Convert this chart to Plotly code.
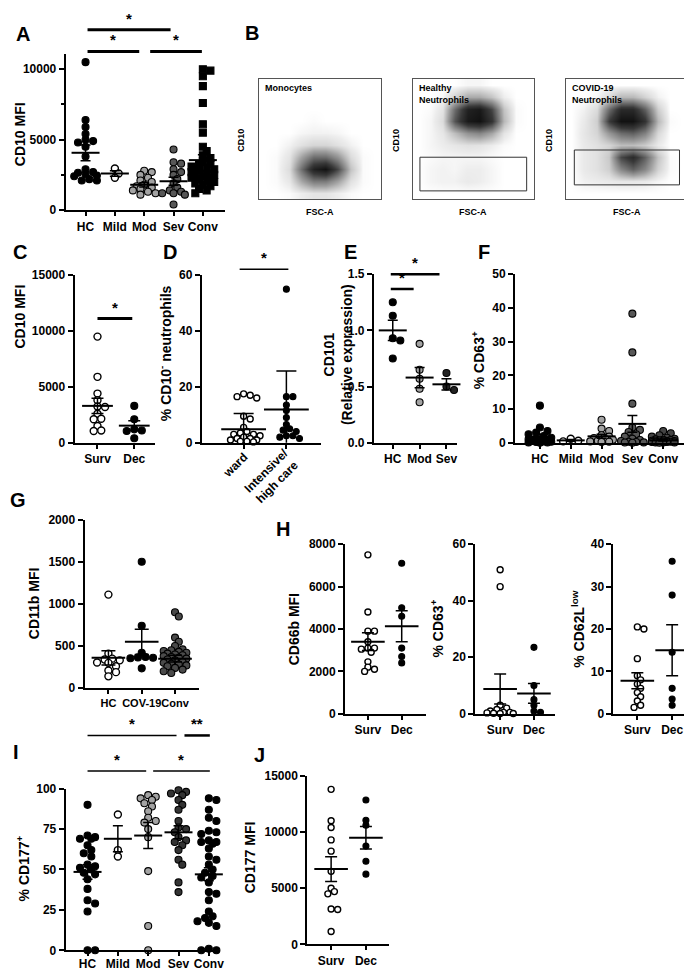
import plotly.graph_objects as go

W, H = 692, 970
FONT = "Liberation Sans, Arial, sans-serif"

# ---------------- DATA ----------------
A_labels = ["HC", "Mild", "Mod", "Sev", "Conv"]
A_HC = [10500, 6400, 5900, 5400, 5000, 4900, 4800, 4500, 3800, 2900, 2700, 2650, 2550, 2450, 2400, 2200, 2100, 2100]
A_Mild = [2950, 2600, 2300]
A_Mod = [2800, 2700, 2500, 2300, 2100, 2000, 1800, 1700, 1600, 1500, 1400, 1300, 1200, 1100]
A_Sev = [4300, 3400, 3300, 2900, 2700, 2500, 2200, 1900, 1600, 1400, 1300, 1200, 1200, 1100, 400]
A_Conv = [10000, 9900, 9500, 8800, 7600, 6100, 5500, 4500, 4200, 3900, 3700, 3500, 3300, 3200, 3100, 3000, 2900,
          2800, 2700, 2600, 2500, 2500, 2400, 2300, 2300, 2200, 2100, 2000, 1900, 1800, 1700, 1500, 1400, 1200]
A_mean = [4070, 2600, 1800, 2050, 3550]
A_sem = [560, 190, 150, 280, 380]
A_yticks = [0, 5000, 10000]

C_labels = ["Surv", "Dec"]
C_Surv = [9500, 5900, 4400, 3800, 3250, 3200, 2600, 2150, 2100, 1500, 1100, 1050]
C_Dec = [3300, 2100, 1200, 1100, 1050, 400]
C_mean = [3300, 1530]
C_sem = [680, 440]
C_yticks = [0, 5000, 10000, 15000]

D_labels = ["ward", "Intensive/<br>high care"]
D_ward = [17.5, 17, 16.5, 16, 9.5, 8.5, 5.5, 4, 3.5, 3, 3, 2.5, 2, 1.5, 1.5, 1, 1, 0.5, 0.5, 0.3]
D_icu = [55, 16.5, 16.5, 13.5, 11.5, 9, 6.5, 5, 4.5, 4, 2.5, 2.5, 2, 1.5]
D_mean = [4.8, 11.9]
D_sd = [5.7, 13.8]
D_yticks = [0, 20, 40, 60]

E_labels = ["HC", "Mod", "Sev"]
E_HC = [1.25, 1.13, 0.93, 0.91, 0.75]
E_Mod = [0.88, 0.65, 0.57, 0.48, 0.36]
E_Sev = [0.62, 0.50, 0.47]
E_mean = [1.0, 0.58, 0.52]
E_sem = [0.09, 0.09, 0.05]
E_yticks = [0, 0.5, 1.0, 1.5]
E_yticktext = ["0.0", "0.5", "1.0", "1.5"]

F_labels = ["HC", "Mild", "Mod", "Sev", "Conv"]
F_HC = [11, 4.5, 3.5, 3, 2.5, 2, 1.5, 1.2, 1, 0.8, 0.6, 0.5, 0.4, 0.3, 0.2, 0.1, 0.1, 0]
F_Mild = [1.2, 0.6, 0.4]
F_Mod = [6.8, 4.2, 3.5, 2.2, 1.8, 1.4, 1.1, 0.9, 0.6, 0.4, 0.3, 0.2]
F_Sev = [38.3, 26.8, 11.6, 4.5, 3.8, 3.2, 2.5, 1.8, 1.2, 0.8, 0.5, 0.3, 0.2, 0.1, 0.05, 0]
F_Conv = [3.5, 2.8, 2.2, 1.8, 1.5, 1.2, 1.0, 0.9, 0.8, 0.7, 0.6, 0.5, 0.5, 0.4, 0.4, 0.3, 0.3, 0.2, 0.2,
          0.1, 0.1, 0.1, 0]
F_mean = [1.8, 0.7, 1.9, 5.6, 0.7]
F_sem = [0.7, 0.25, 0.6, 2.5, 0.2]
F_yticks = [0, 10, 20, 30, 40, 50]

G_labels = ["HC", "COV-19", "Conv"]
G_HC = [1110, 410, 350, 340, 330, 305, 300, 260, 210, 190, 140]
G_COV = [1500, 740, 420, 370, 365, 360, 355, 235]
G_Conv = [900, 850, 600, 550, 500, 460, 450, 440, 430, 420, 410, 400, 390, 380, 370, 360, 350, 340, 330, 310,
          300, 290, 280, 270, 260, 240, 220, 200, 180]
G_mean = [360, 550, 350]
G_sem = [85, 150, 40]
G_yticks = [0, 500, 1000, 1500, 2000]

H_labels = ["Surv", "Dec"]
H1_Surv = [7500, 4800, 3900, 3900, 3400, 3100, 3100, 3050, 2900, 2450, 2200, 2100, 2000]
H1_Dec = [7100, 5000, 4600, 3100, 2700, 2400]
H1_mean = [3400, 4130]
H1_sem = [420, 730]
H1_yticks = [0, 2000, 4000, 6000, 8000]
H2_Surv = [51, 45, 3, 2, 1.5, 1, 0.5, 0.5, 0.3, 0.2, 0.1, 0.1]
H2_Dec = [23.5, 10, 5, 3, 1, 0.5]
H2_mean = [8.8, 7.2]
H2_sem = [5.3, 3.5]
H2_yticks = [0, 20, 40, 60]
H3_Surv = [20.5, 20, 13, 9, 8, 7, 6, 5, 4, 3, 2, 1.5]
H3_Dec = [36, 28, 14.5, 6, 3.5, 2]
H3_mean = [7.8, 15]
H3_sem = [1.9, 6]
H3_yticks = [0, 10, 20, 30, 40]

I_labels = ["HC", "Mild", "Mod", "Sev", "Conv"]
I_HC = [90, 71, 70, 69, 69, 65, 62, 60, 58, 53, 52, 51, 50, 48, 47, 44, 38, 31, 29, 24, 0, 0]
I_Mild = [84, 62, 58]
I_Mod = [96, 95, 94, 93, 91, 89, 86, 82, 80, 79, 75, 70, 49, 15, 0]
I_Sev = [99, 98, 97, 96, 93, 90, 87, 80, 76, 75, 73, 70, 68, 67, 65, 62, 56, 53, 42, 36]
I_Conv = [94, 93, 87, 82, 80, 74, 73, 72, 68, 67, 67, 66, 63, 58, 56, 53, 50, 48, 46, 45, 42, 36, 35, 31,
          24, 21, 20, 19, 18, 17, 15, 1, 0, 0]
I_mean = [48.5, 69, 71, 73, 47]
I_sem = [4.5, 8, 8, 4, 4]
I_yticks = [0, 25, 50, 75, 100]

J_labels = ["Surv", "Dec"]
J_Surv = [13800, 11000, 10400, 9300, 8300, 6500, 5000, 4700, 4500, 3150, 3100, 1150]
J_Dec = [12850, 11050, 10600, 8750, 7400, 6250]
J_mean = [6700, 9500]
J_sem = [1100, 1000]
J_yticks = [0, 5000, 10000, 15000]

# flow cytometry event density (rows bottom -> top, 10 x 10 grid over each plot)
B_titles = ["Monocytes", "Healthy<br>Neutrophils", "COVID-19<br>Neutrophils"]
B_mono = [
    [0, 0, 0.01, 0.04, 0.07, 0.07, 0.04, 0.01, 0, 0],
    [0, 0.01, 0.06, 0.28, 0.45, 0.45, 0.3, 0.08, 0.01, 0],
    [0, 0.01, 0.1, 0.5, 0.85, 0.95, 0.65, 0.18, 0.01, 0],
    [0, 0.01, 0.07, 0.3, 0.5, 0.5, 0.35, 0.1, 0.01, 0],
    [0, 0, 0.03, 0.08, 0.12, 0.12, 0.08, 0.03, 0, 0],
    [0, 0, 0, 0.02, 0.03, 0.03, 0.02, 0, 0, 0],
    [0, 0, 0, 0, 0.01, 0, 0, 0, 0, 0],
    [0] * 10, [0] * 10, [0] * 10]
B_healthy = [
    [0] * 10,
    [0, 0.02, 0.03, 0.03, 0.05, 0.04, 0.02, 0, 0, 0],
    [0, 0.02, 0.03, 0.02, 0.04, 0.04, 0.02, 0, 0, 0],
    [0, 0.01, 0.02, 0.02, 0.02, 0.02, 0.01, 0, 0, 0],
    [0, 0.02, 0.04, 0.06, 0.08, 0.07, 0.04, 0.01, 0, 0],
    [0, 0.02, 0.06, 0.2, 0.35, 0.4, 0.28, 0.07, 0, 0],
    [0, 0.02, 0.1, 0.6, 0.9, 0.95, 0.75, 0.22, 0.01, 0],
    [0, 0.01, 0.07, 0.5, 0.85, 0.9, 0.65, 0.18, 0.01, 0],
    [0, 0, 0.02, 0.13, 0.27, 0.27, 0.18, 0.04, 0, 0],
    [0, 0, 0, 0, 0.02, 0.02, 0, 0, 0, 0]]
B_covid = [
    [0] * 10,
    [0, 0.03, 0.04, 0.05, 0.06, 0.06, 0.05, 0.02, 0, 0],
    [0, 0.05, 0.08, 0.14, 0.4, 0.55, 0.4, 0.13, 0.01, 0],
    [0, 0.05, 0.08, 0.16, 0.65, 0.8, 0.55, 0.18, 0.01, 0],
    [0, 0.05, 0.08, 0.12, 0.2, 0.2, 0.15, 0.05, 0, 0],
    [0, 0.06, 0.12, 0.33, 0.5, 0.55, 0.42, 0.11, 0, 0],
    [0, 0.05, 0.14, 0.7, 0.95, 0.95, 0.75, 0.22, 0.01, 0],
    [0, 0.03, 0.1, 0.5, 0.8, 0.8, 0.55, 0.14, 0, 0],
    [0, 0, 0.02, 0.1, 0.22, 0.22, 0.13, 0.03, 0, 0],
    [0] * 10]
B_gates = [None, [0.06, 0.94, 0.07, 0.35], [0.07, 0.93, 0.12, 0.41]]

# ---------------- HELPERS ----------------
def X(px):
    return px / W


def Y(py):
    return 1 - py / H


def names(n):
    return ('x' if n == 1 else f'x{n}', 'y' if n == 1 else f'y{n}',
            'xaxis' if n == 1 else f'xaxis{n}', 'yaxis' if n == 1 else f'yaxis{n}')


def swarm(vals, ky, kx, d, maxw):
    """Greedy beeswarm in pixel space; returns x offsets in category units."""
    order = sorted(range(len(vals)), key=lambda i: -vals[i])
    placed = []
    off = [0.0] * len(vals)
    step = d * 0.5
    cands = [0.0]
    m = 1
    while m * step <= maxw + 1e-9:
        cands += [m * step, -m * step]
        m += 1
    mind = d * 0.72
    for i in order:
        y = vals[i] * ky
        best, bestd = None, -1
        for cx in cands:
            dm = min([((cx - a) ** 2 + (y - b) ** 2) ** 0.5 for a, b in placed] or [1e9])
            if dm >= mind:
                best = cx
                break
            if dm > bestd:
                best, bestd = cx, dm
        placed.append((best, y))
        off[i] = best / kx
    return off


fig = go.Figure()
axes = {}
annotations = []
shapes = []
geo = {}

BLACK = 'black'
TITLE_SIZE = 14
LETTER_SIZE = 20


def tfont(size=12):
    return dict(family=FONT, size=size, color=BLACK, weight='bold')


def text(px, py, s, size=12, angle=0, xanchor='center', yanchor='middle'):
    annotations.append(dict(x=X(px), y=Y(py), xref='paper', yref='paper', text=s, showarrow=False,
                            textangle=angle, xanchor=xanchor, yanchor=yanchor, font=tfont(size)))


def dot_panel(n, L, R, T, B, cats_px, ytop, yticks, labels, groups, styles, mean, err,
              msize=7, mhalf=10, chalf=5, yticktext=None, minor=None, showxlabels=True, spread=0.45,
              standoff=0, xfont=12):
    s = (cats_px[-1] - cats_px[0]) / (len(cats_px) - 1)
    c0 = cats_px[0]
    xr = [(L - c0) / s, (R - c0) / s]
    ky = (B - T) / ytop
    xa, ya, xk, yk = names(n)
    geo[n] = (c0, s)
    for gi, (vals, st) in enumerate(zip(groups, styles)):
        off = swarm(vals, ky, s, msize + 0.6, spread * s)
        fig.add_trace(go.Scatter(
            x=[gi + o for o in off], y=vals, mode='markers', xaxis=xa, yaxis=ya,
            cliponaxis=False, showlegend=False, hoverinfo='skip',
            marker=dict(symbol=st[0], size=msize, color=st[1],
                        line=dict(color=BLACK, width=1.4 if st[1] == 'white' else 1.1))))
    fig.add_trace(go.Scatter(
        x=list(range(len(mean))), y=mean, mode='markers', xaxis=xa, yaxis=ya, cliponaxis=False,
        showlegend=False, hoverinfo='skip',
        marker=dict(symbol='line-ew', size=2 * mhalf, color=BLACK, line=dict(color=BLACK, width=2)),
        error_y=dict(type='data', array=err, width=chalf, thickness=1.5, color=BLACK)))
    xd = dict(domain=[X(L), X(R)], range=xr, anchor=ya, showline=True, linecolor=BLACK, linewidth=2,
              ticks='outside', ticklen=4, tickwidth=2, tickcolor=BLACK, tickangle=0,
              tickvals=list(range(len(labels))), ticktext=labels, showticklabels=showxlabels,
              tickfont=tfont(xfont), showgrid=False, zeroline=False, fixedrange=True)
    if standoff:
        xd['ticklabelstandoff'] = standoff
    axes[xk] = xd
    ya_d = dict(domain=[Y(B), Y(T)], range=[0, ytop], anchor=xa, showline=True, linecolor=BLACK, linewidth=2,
                ticks='outside', ticklen=5, tickwidth=2, tickcolor=BLACK, tickvals=yticks,
                ticktext=yticktext if yticktext else [str(v) for v in yticks],
                tickfont=tfont(12), showgrid=False, zeroline=False, fixedrange=True)
    if minor:
        ya_d['minor'] = dict(tickvals=minor, ticks='outside', ticklen=3, tickwidth=2, tickcolor=BLACK)
    axes[yk] = ya_d


def sig(n, i, j, label, py, lw=2.5, dl=2, dr=3, star_size=15):
    c0, s = geo[n]
    x0 = c0 + i * s + dl
    x1 = c0 + j * s - dr
    shapes.append(dict(type='line', xref='paper', yref='paper', x0=X(x0), x1=X(x1), y0=Y(py), y1=Y(py),
                       line=dict(color=BLACK, width=lw)))
    annotations.append(dict(x=X((x0 + x1) / 2), y=Y(py - 1), xref='paper', yref='paper', text=label,
                            showarrow=False, xanchor='center', yanchor='bottom', font=tfont(star_size)))


OPEN = ('circle', 'white')
BLK = ('circle', 'black')
LG = ('circle', '#a3a3a3')
DG = ('circle', '#575757')
SQ = ('square', 'black')

# ---------------- PANEL A ----------------
dot_panel(1, 58, 218, 40, 198, [78, 108, 137, 167, 196], 11050, A_yticks, A_labels,
          [A_HC, A_Mild, A_Mod, A_Sev, A_Conv], [BLK, OPEN, LG, DG, SQ], A_mean, A_sem,
          msize=7, mhalf=10, chalf=5, minor=[2500, 7500])
sig(1, 0, 3, '*', 15, lw=3)
sig(1, 0, 2, '*', 37, lw=3, dr=5)
sig(1, 2, 4, '*', 37, lw=3, dl=6, dr=1)
text(15, 19, 'A', LETTER_SIZE)
text(12, 121, 'CD10 MFI', TITLE_SIZE, -90)

# ---------------- PANEL C ----------------
dot_panel(2, 67, 148, 264, 434, [90, 127], 15000, C_yticks, C_labels, [C_Surv, C_Dec], [OPEN, BLK],
          C_mean, C_sem, msize=7, mhalf=11, chalf=6, spread=0.4)
sig(2, 0, 1, '*', 308, lw=3, dl=0, dr=2)
text(12, 240, 'C', LETTER_SIZE)
text(12, 306, 'CD10 MFI', TITLE_SIZE, -90)

# ---------------- PANEL D ----------------
dot_panel(3, 195, 315, 264, 434, [237, 280], 60, D_yticks, D_labels, [D_ward, D_icu], [OPEN, BLK],
          D_mean, D_sd, msize=6, mhalf=16, chalf=10, showxlabels=False, spread=0.42)
sig(3, 0, 1, '*', 258, lw=1.5, dl=-4, dr=-2)
text(163, 240, 'D', LETTER_SIZE)
text(158, 343, '% CD10<sup>-</sup> neutrophils', TITLE_SIZE, -90)
text(229, 457, D_labels[0], 12, -45)
text(266, 468, D_labels[1], 12, -45)

# ---------------- PANEL E ----------------
dot_panel(4, 368, 452, 263, 434, [387, 414, 441], 1.5, E_yticks, E_labels, [E_HC, E_Mod, E_Sev],
          [BLK, LG, ('circle', '#222222')], E_mean, E_sem, msize=7, mhalf=10, chalf=5, yticktext=E_yticktext)
sig(4, 0, 2, '*', 263, lw=2.5, dl=-2, dr=7)
sig(4, 0, 1, '*', 278, lw=2.5, dl=-2, dr=6)
text(344, 240, 'E', LETTER_SIZE)
text(332, 345, 'CD101<br>(Relative expression)', TITLE_SIZE, -90)

# ---------------- PANEL F ----------------
dot_panel(5, 510, 683, 263, 434, [535, 566, 597, 628, 659], 50, F_yticks, F_labels,
          [F_HC, F_Mild, F_Mod, F_Sev, F_Conv], [BLK, OPEN, LG, DG, ('circle', '#444444')], F_mean, F_sem,
          msize=7, mhalf=10, chalf=5)
text(479, 240, 'F', LETTER_SIZE)
text(473, 350, '% CD63<sup>+</sup>', TITLE_SIZE, -90)

# ---------------- PANEL G ----------------
dot_panel(6, 77, 192, 512, 683, [101, 135, 168], 2000, G_yticks, G_labels, [G_HC, G_COV, G_Conv],
          [OPEN, BLK, ('circle', '#4a4a4a')], G_mean, G_sem, msize=7, mhalf=12, chalf=7, xfont=11)
text(10, 492, 'G', LETTER_SIZE)
text(27, 597, 'CD11b MFI', TITLE_SIZE, -90)

# ---------------- PANEL H ----------------
dot_panel(7, 339, 420, 537, 709, [362, 396], 8000, H1_yticks, H_labels, [H1_Surv, H1_Dec], [OPEN, BLK],
          H1_mean, H1_sem, msize=6, mhalf=12, chalf=6, spread=0.4)
dot_panel(8, 470, 550, 537, 709, [495, 529], 60, H2_yticks, H_labels, [H2_Surv, H2_Dec], [OPEN, BLK],
          H2_mean, H2_sem, msize=6, mhalf=12, chalf=6, spread=0.4)
dot_panel(9, 609, 688, 537, 709, [633, 668], 40, H3_yticks, H_labels, [H3_Surv, H3_Dec], [OPEN, BLK],
          H3_mean, H3_sem, msize=6, mhalf=12, chalf=6, spread=0.4)
text(277, 522, 'H', LETTER_SIZE)
text(288, 623, 'CD66b MFI', TITLE_SIZE, -90)
text(432, 623, '% CD63<sup>+</sup>', TITLE_SIZE, -90)
text(573, 623, '% CD62L<sup>low</sup>', TITLE_SIZE, -90)

# ---------------- PANEL I ----------------
dot_panel(10, 58, 213, 785, 949, [80, 110, 140, 171, 202], 100, I_yticks, I_labels,
          [I_HC, I_Mild, I_Mod, I_Sev, I_Conv], [BLK, OPEN, LG, ('circle', '#333333'), BLK], I_mean, I_sem,
          msize=7, mhalf=10, chalf=5, standoff=-3)
sig(10, 0, 3, '*', 731, lw=1.5, dl=0, dr=2)
sig(10, 3, 4, '**', 731, lw=2.5, dl=6, dr=-1)
sig(10, 0, 2, '*', 767, lw=1.5, dl=0, dr=2)
sig(10, 2, 4, '*', 767, lw=1.5, dl=5, dr=-1)
text(8, 748, 'I', LETTER_SIZE)
text(15, 866, '% CD177<sup>+</sup>', TITLE_SIZE, -90)

# ---------------- PANEL J ----------------
dot_panel(11, 301, 383, 772, 943, [325, 360], 15000, J_yticks, J_labels, [J_Surv, J_Dec], [OPEN, BLK],
          J_mean, J_sem, msize=6, mhalf=12, chalf=6, spread=0.4)
text(253, 751, 'J', LETTER_SIZE)
text(243, 855, 'CD177 MFI', TITLE_SIZE, -90)

# ---------------- PANEL B (flow plots) ----------------
grid_pos = [(i + 0.5) / 10 for i in range(10)]
B_boxes = [(252, 375), (407, 529), (561, 684)]
B_grids = [B_mono, B_healthy, B_covid]
cscale = [[0, '#ffffff'], [0.04, '#ededed'], [0.3, '#a0a0a0'], [0.7, '#3a3a3a'], [1, '#0a0a0a']]
for k, ((bl, br), z, title, gate) in enumerate(zip(B_boxes, B_grids, B_titles, B_gates)):
    n = 12 + k
    xa, ya, xk, yk = names(n)
    fig.add_trace(go.Heatmap(z=z, x=grid_pos, y=grid_pos, xaxis=xa, yaxis=ya, zsmooth='best',
                             colorscale=cscale, zmin=0, zmax=1, showscale=False, hoverinfo='skip'))
    if gate:
        gx = [gate[0], gate[1], gate[1], gate[0], gate[0]]
        gy = [gate[2], gate[2], gate[3], gate[3], gate[2]]
        fig.add_trace(go.Scatter(x=gx, y=gy, mode='lines', xaxis=xa, yaxis=ya, showlegend=False,
                                 hoverinfo='skip', line=dict(color='#333333', width=1)))
    common = dict(range=[0, 1], showline=True, mirror=True, linecolor='#555555', linewidth=1,
                  ticks='', showticklabels=False, showgrid=False, zeroline=False, fixedrange=True)
    axes[xk] = dict(domain=[X(bl), X(br)], anchor=ya, **common)
    axes[yk] = dict(domain=[Y(187), Y(65)], anchor=xa, **common)
    annotations.append(dict(x=X(bl + 4), y=Y(67), xref='paper', yref='paper', text=title, showarrow=False,
                            xanchor='left', yanchor='top', align='left', font=tfont(9)))
    text(bl - 17, 127, 'CD10', 9, -90)
    text((bl + br) / 2, 200, 'FSC-A', 9)
text(245, 18, 'B', LETTER_SIZE)

fig.update_layout(width=W, height=H, margin=dict(l=0, r=0, t=0, b=0), paper_bgcolor='white',
                  plot_bgcolor='rgba(0,0,0,0)', showlegend=False, annotations=annotations, shapes=shapes,
                  **axes)
fig.write_html("out.html")
